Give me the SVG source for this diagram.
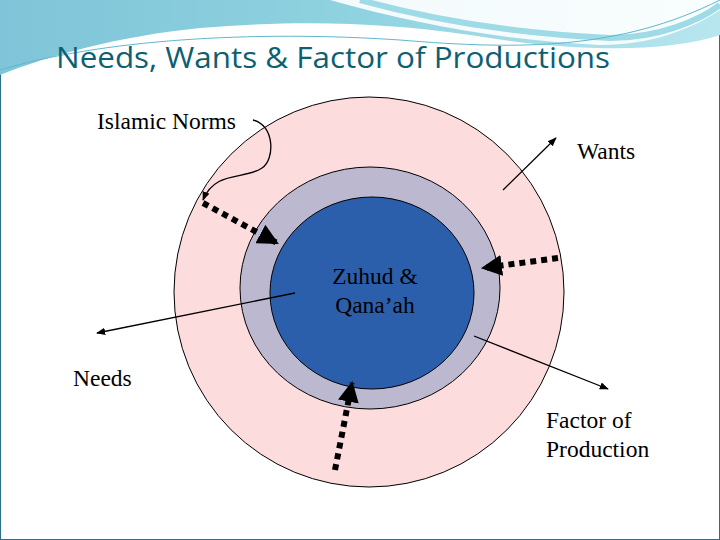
<svg xmlns="http://www.w3.org/2000/svg" width="720" height="540" viewBox="0 0 720 540">
<defs>
<linearGradient id="bg" x1="0" y1="0" x2="1" y2="0"><stop offset="0" stop-color="#7fc4d8"/><stop offset="0.5" stop-color="#8fd3e0"/><stop offset="1" stop-color="#b8e6ef"/></linearGradient>
<marker id="a" viewBox="0 0 10 10" refX="9" refY="5" markerWidth="7" markerHeight="7" orient="auto"><path d="M0,1 L10,5 L0,9 z" fill="#000"/></marker>
<marker id="b" viewBox="0 0 10 10" refX="9" refY="5" markerWidth="3.5" markerHeight="3.5" orient="auto"><path d="M0,0 L10,5 L0,10 z" fill="#000"/></marker>
</defs>
<style>
.t{font-family:"Liberation Serif",serif;font-size:23.5px;fill:#000}
.thin{stroke:#000;stroke-width:1.3;fill:none;marker-end:url(#a)}
.dot{stroke:#000;stroke-width:6;stroke-dasharray:6 5;fill:none;marker-end:url(#b)}
</style>
<rect width="720" height="540" fill="#fff"/>
<rect x="0.5" y="0.5" width="719" height="539" fill="none" stroke="#2c6f8a" stroke-width="1"/>
<path d="M0,0 H720 V35 C660,55 560,50 470,35 C380,22 300,20 200,28 C120,36 50,55 0,75 Z" fill="url(#bg)"/>
<path d="M330,0 C420,25 500,40 600,45 C650,45 690,30 720,10 V0 Z" fill="#fff" opacity="0.9"/>
<path d="M360,0 C440,22 520,34 610,38 C660,38 700,20 720,5" fill="none" stroke="#9edbe6" stroke-width="6"/>
<path d="M0,70 C100,40 250,30 400,40 C520,50 620,50 720,0" fill="none" stroke="#5fb8cc" stroke-width="1"/>
<text x="56" y="68" font-family="'Open Sans',sans-serif" font-size="30" fill="#0d5f73" textLength="554" lengthAdjust="spacingAndGlyphs">Needs, Wants &amp; Factor of Productions</text>
<g id="outer"><ellipse cx="369" cy="292" rx="195" ry="195" fill="#fcdcdc" stroke="#000" stroke-width="1"/></g>
<g id="middle"><ellipse cx="370" cy="288" rx="130" ry="121" fill="#bcb8d0" stroke="#000" stroke-width="1"/></g>
<g id="inner"><ellipse cx="372" cy="293" rx="102" ry="96" fill="#2c5fab" stroke="#000" stroke-width="1"/>
<text class="t" x="375" y="284" text-anchor="middle">Zuhud &amp;</text>
<text class="t" x="375" y="313" text-anchor="middle">Qana’ah</text></g>
<g id="labels">
<text class="t" x="97" y="129">Islamic Norms</text>
<text class="t" x="577" y="159">Wants</text>
<text class="t" x="73" y="386">Needs</text>
<text class="t" x="546" y="428">Factor of</text>
<text class="t" x="546" y="457">Production</text>
</g>
<g id="connectors">
<path class="thin" d="M253,120 C275,125 275,160 262,168 C245,180 215,170 203,200"/>
<path class="thin" d="M503,190 L556,138"/>
<path class="thin" d="M295,293 L97,333"/>
<path class="thin" d="M474,336 L608,389"/>
<path class="dot" d="M203,203 L277,243"/>
<path class="dot" d="M558,258 L483,268"/>
<path class="dot" d="M335,470 L352,383"/>
</g>
</svg>
